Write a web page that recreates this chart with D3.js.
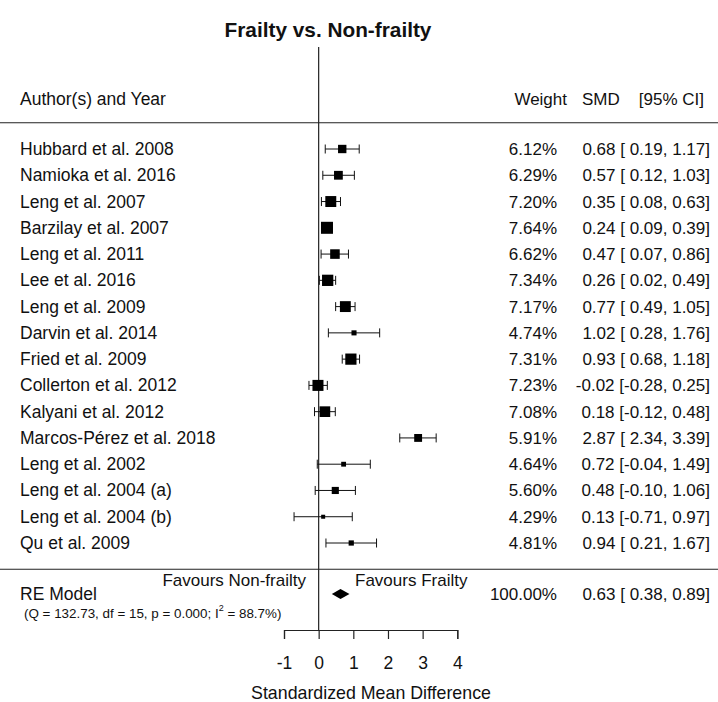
<!DOCTYPE html>
<html lang="en">
<head>
  <meta charset="UTF-8">
  <title>Frailty vs. Non-frailty</title>
  <script src="https://d3js.org/d3.v7.min.js"></script>
  <style>
    body {
      margin: 0;
      background: white;
      font-family: "Liberation Sans", Arial, sans-serif;
    }
    text {
      fill: #111;
    }
  </style>
</head>
<body>
  <div id="chart"></div>
  <script>
    // study data
    const studies = [
      "Hubbard et al. 2008", "Namioka et al. 2016", "Leng et al. 2007", "Barzilay et al. 2007",
      "Leng et al. 2011", "Lee et al. 2016", "Leng et al. 2009", "Darvin et al. 2014",
      "Fried et al. 2009", "Collerton et al. 2012", "Kalyani et al. 2012", "Marcos-Pérez et al. 2018",
      "Leng et al. 2002", "Leng et al. 2004 (a)", "Leng et al. 2004 (b)", "Qu et al. 2009"
    ];
    const smd    = [0.68, 0.57, 0.35, 0.24, 0.47, 0.26, 0.77, 1.02, 0.93, -0.02, 0.18, 2.87, 0.72, 0.48, 0.13, 0.94];
    const ciLow  = [0.19, 0.12, 0.08, 0.09, 0.07, 0.02, 0.49, 0.28, 0.68, -0.28, -0.12, 2.34, -0.04, -0.10, -0.71, 0.21];
    const ciHigh = [1.17, 1.03, 0.63, 0.39, 0.86, 0.49, 1.05, 1.76, 1.18, 0.25, 0.48, 3.39, 1.49, 1.06, 0.97, 1.67];
    const weights = [6.12, 6.29, 7.20, 7.64, 6.62, 7.34, 7.17, 4.74, 7.31, 7.23, 7.08, 5.91, 4.64, 5.60, 4.29, 4.81];

    // pooled random-effects estimate
    const pooled = {est: 0.63, lo: 0.38, hi: 0.89, weight: 100.00};
    const stats = {Q: "132.73", df: 15, p: "0.000", I2: "88.7"};

    const xTicks = [-1, 0, 1, 2, 3, 4];

    const width = 718, height = 702;
    const k = studies.length;

    const svg = d3.select("#chart").append("svg")
      .attr("width", width)
      .attr("height", height);

    const x = d3.scaleLinear().domain([-1, 4]).range([284, 457.3]);
    // metafor style rows: k..1 for studies, 0 = bottom rule
    const y = d3.scaleLinear().domain([k, 1]).range([149, 543]);
    const psize = d3.scaleLinear().domain(d3.extent(weights)).range([4, 12]);

    const fmt = v => (v < 0 ? "" : " ") + v.toFixed(2);
    const fs = 17;
    const fsLab = 17.5;
    const wRight = 557, cRight = 710;

    // title
    svg.append("text")
      .attr("x", 328).attr("y", 37)
      .attr("text-anchor", "middle")
      .style("font-size", "20.8px")
      .style("font-weight", "bold")
      .text("Frailty vs. Non-frailty");

    // reference line at 0
    svg.append("line")
      .attr("x1", x(0)).attr("x2", x(0))
      .attr("y1", 47).attr("y2", 630)
      .attr("stroke", "#222").attr("stroke-width", 1.2);

    // horizontal separators
    [k + 1, 0].forEach(r => {
      svg.append("line")
        .attr("x1", 0).attr("x2", width)
        .attr("y1", y(r)).attr("y2", y(r))
        .attr("stroke", "#222").attr("stroke-width", 1.2);
    });

    // headers
    const hy = 104.5;
    svg.append("text").attr("x", 20).attr("y", hy)
      .style("font-size", fsLab + "px").text("Author(s) and Year");
    svg.append("text").attr("x", 567).attr("y", hy).attr("text-anchor", "end")
      .style("font-size", fs + "px").text("Weight");
    svg.append("text").attr("x", 582).attr("y", hy)
      .style("font-size", fs + "px").text("SMD");
    svg.append("text").attr("x", 704).attr("y", hy).attr("text-anchor", "end")
      .style("font-size", fs + "px").text("[95% CI]");

    const rows = svg.append("g").selectAll("g")
      .data(studies.map((s, i) => ({s, i})))
      .join("g")
      .attr("transform", d => `translate(0,${y(k - d.i)})`);

    rows.append("text").attr("x", 20).attr("y", 6)
      .style("font-size", fsLab + "px").text(d => d.s);

    rows.append("text").attr("x", wRight).attr("y", 6).attr("text-anchor", "end")
      .style("font-size", fs + "px").text(d => weights[d.i].toFixed(2) + "%");

    rows.append("text").attr("x", cRight).attr("y", 6).attr("text-anchor", "end")
      .style("font-size", fs + "px").attr("xml:space", "preserve")
      .text(d => `${smd[d.i].toFixed(2)} [${fmt(ciLow[d.i])},${fmt(ciHigh[d.i])}]`);

    // CI lines
    rows.append("line")
      .attr("x1", d => x(ciLow[d.i])).attr("x2", d => x(ciHigh[d.i]))
      .attr("y1", 0).attr("y2", 0)
      .attr("stroke", "#111");
    rows.append("line")
      .attr("x1", d => x(ciLow[d.i])).attr("x2", d => x(ciLow[d.i]))
      .attr("y1", -4.5).attr("y2", 4.5).attr("stroke", "#111");
    rows.append("line")
      .attr("x1", d => x(ciHigh[d.i])).attr("x2", d => x(ciHigh[d.i]))
      .attr("y1", -4.5).attr("y2", 4.5).attr("stroke", "#111");

    // squares
    rows.append("rect")
      .attr("x", d => x(smd[d.i]) - psize(weights[d.i]) / 2)
      .attr("y", d => -psize(weights[d.i]) / 2)
      .attr("width", d => psize(weights[d.i]))
      .attr("height", d => psize(weights[d.i]))
      .attr("fill", "#000");

    // RE model row
    const ry = 594;
    svg.append("text").attr("x", 20).attr("y", ry + 6)
      .style("font-size", fsLab + "px").text("RE Model");
    svg.append("text").attr("x", wRight).attr("y", ry + 6).attr("text-anchor", "end")
      .style("font-size", fs + "px").text(pooled.weight.toFixed(2) + "%");
    svg.append("text").attr("x", cRight).attr("y", ry + 6).attr("text-anchor", "end")
      .style("font-size", fs + "px").attr("xml:space", "preserve")
      .text(`${pooled.est.toFixed(2)} [${fmt(pooled.lo)},${fmt(pooled.hi)}]`);

    svg.append("path")
      .attr("d", `M${x(pooled.lo)},${ry} L${x(pooled.est)},${ry - 5} L${x(pooled.hi)},${ry} L${x(pooled.est)},${ry + 5} Z`)
      .attr("fill", "#000");

    const q = svg.append("text").attr("x", 24).attr("y", 618)
      .style("font-size", "13.4px");
    q.append("tspan").text(`(Q = ${stats.Q}, df = ${stats.df}, p = ${stats.p}; I`);
    q.append("tspan").attr("dy", -7).style("font-size", "9px").text("2");
    q.append("tspan").attr("dy", 7).text(` = ${stats.I2}%)`);

    // favours labels
    svg.append("text").attr("x", 306).attr("y", 586).attr("text-anchor", "end")
      .style("font-size", fs + "px").text("Favours Non-frailty");
    svg.append("text").attr("x", 355).attr("y", 586)
      .style("font-size", fs + "px").text("Favours Frailty");

    // x axis
    const axis = svg.append("g")
      .attr("transform", "translate(0,630)")
      .call(d3.axisBottom(x).tickValues(xTicks).tickFormat(d => String(d)).tickSize(9).tickPadding(18));
    axis.select(".domain").attr("stroke", "#222").attr("stroke-width", 1.2);
    axis.selectAll(".tick line").attr("stroke", "#222").attr("stroke-width", 1.2);
    axis.selectAll(".tick text")
      .style("font-size", "17.5px")
      .style("font-family", "'Liberation Sans', Arial, sans-serif")
      .attr("fill", "#111");

    svg.append("text").attr("x", 371).attr("y", 699)
      .attr("text-anchor", "middle")
      .style("font-size", "17.8px")
      .text("Standardized Mean Difference");
  </script>
</body>
</html>
